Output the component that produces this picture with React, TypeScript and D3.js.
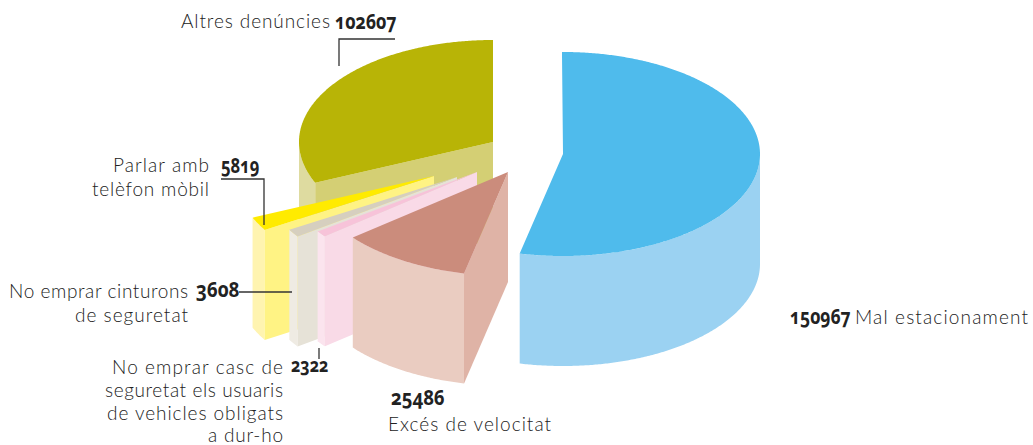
import React from "react";
import * as d3 from "d3";

// Data
const categories = ["Mal estacionament", "Excés de velocitat", "No emprar casc", "No emprar cinturons", "Parlar amb telèfon mòbil", "Altres denúncies"];
const values = [150967, 25486, 2322, 3608, 5819, 102607];

// Appearance
const topColors = ["#4FBBEC", "#CB8C7C", "#F7C3D9", "#D6CFBF", "#FFEB00", "#B8B406"];
const wallColors = ["#9BD2F2", "#EACCC1", "#FBE4EE", "#EFEBE3", "#FFF4B0", "#DEDBA0"];
const cutColors = ["#9BD2F2", "#DFB3A6", "#F9DAE7", "#E6E2D7", "#FFF384", "#D4CF74"];
const apexX = [563, 508, 477, 457, 434, 493];
const apexY = [154, 172, 172, 177, 176, 142];
const radiusX = [197, 200, 196, 196, 198, 194];
const radiusY = [102, 104, 102, 102, 104, 102];
const drawOrder = [5, 4, 3, 2, 1, 0];
// perspective-warped angle (degrees) of each slice boundary, as drawn
const warpedBoundaries = [-0.3, 192.7, 230.9, 234.4, 238.8, 246.4, 360];
const DEPTH = 110;

const LABEL_FONT = "Lato, 'Open Sans', sans-serif";
const NUM_FONT = "'Open Sans', sans-serif";
const INK = "#333333";
const DIGIT_EM = 0.571;

const labelLines = [
  { x: 855, y: 324, w: 173, anchor: "start", text: "Mal estacionament" },
  { x: 388, y: 431, w: 163, anchor: "start", text: "Excés de velocitat" },
  { x: 283, y: 374, w: 171, anchor: "end", text: "No emprar casc de" },
  { x: 283, y: 397, w: 178, anchor: "end", text: "seguretat els usuaris" },
  { x: 283, y: 420, w: 176, anchor: "end", text: "de vehicles obligats" },
  { x: 283, y: 442, w: 75, anchor: "end", text: "a dur-ho" },
  { x: 188, y: 298, w: 179, anchor: "end", text: "No emprar cinturons" },
  { x: 188, y: 322, w: 113, anchor: "end", text: "de seguretat" },
  { x: 209, y: 172, w: 96, anchor: "end", text: "Parlar amb" },
  { x: 209, y: 196, w: 117, anchor: "end", text: "telèfon mòbil" },
  { x: 330, y: 28, w: 149, anchor: "end", text: "Altres denúncies" },
];
const numberX = [790, 391, 291, 196, 221, 335];
const numberY = [324, 405, 372, 297, 173, 29];
const numberW = [60, 53, 37, 43, 38, 61];
const numberSize = [22, 22, 19, 22, 21, 21];
const leaders = [
  [[339, 66], [339, 39], [395, 39]],
  [[221, 179], [264, 179], [264, 225]],
  [[239, 292], [292, 292]],
  [[319, 348], [319, 359]],
];

export default function App() {
  const total = d3.sum(values);
  const arcs = d3.pie<number>().sort(null).startAngle(0).endAngle(2 * Math.PI)(values);
  const cum: number[] = [0];
  values.forEach((v) => cum.push(cum[cum.length - 1] + v));
  const warp = d3.scaleLinear().domain(cum).range(warpedBoundaries);
  const angleToValue = d3.scaleLinear().domain([0, 2 * Math.PI]).range([0, total]);
  const line = d3.line();
  const leaderLine = d3.line();

  const slices = arcs.map((a, i) => {
    const t0 = warp(angleToValue(a.startAngle));
    const t1 = warp(angleToValue(a.endAngle));
    const pt = (deg: number, dy = 0): [number, number] => {
      const r = (deg * Math.PI) / 180;
      return [apexX[i] + radiusX[i] * Math.sin(r), apexY[i] - radiusY[i] * Math.cos(r) + dy];
    };
    const range = (from: number, to: number) => d3.range(from, to, 0.5).concat([to]);
    const apex: [number, number] = [apexX[i], apexY[i]];
    const top = line([apex, ...range(t0, t1).map((d) => pt(d))])! + "Z";
    const wa = Math.max(t0, 90);
    const wb = Math.min(t1, 270);
    const wallPts = range(wa, wb);
    const wall =
      line([...wallPts.map((d) => pt(d)), ...wallPts.slice().reverse().map((d) => pt(d, DEPTH))])! + "Z";
    const cut =
      t0 > 90 && t0 < 270
        ? line([apex, pt(t0), pt(t0, DEPTH), [apex[0], apex[1] + DEPTH]])! + "Z"
        : null;
    return { i, top, wall, cut };
  });

  return (
    <svg width={1033} height={445} style={{ position: "absolute", left: 0, top: 0 }}>
      {drawOrder.map((i) => {
        const s = slices[i];
        return (
          <g key={categories[i]}>
            <path d={s.wall} fill={wallColors[i]} />
            {s.cut && <path d={s.cut} fill={cutColors[i]} />}
            <path d={s.top} fill={topColors[i]} />
          </g>
        );
      })}
      {leaders.map((l, i) => (
        <path key={i} d={leaderLine(l as [number, number][])!} fill="none" stroke={INK} strokeWidth={1.3} />
      ))}
      {labelLines.map((l) => (
        <text key={l.text} x={l.x} y={l.y} textAnchor={l.anchor as any} textLength={l.w} fontFamily={LABEL_FONT} fontWeight={300} fontSize={19} fill="#222">
          {l.text}
        </text>
      ))}
      {values.map((v, i) => {
        const natural = String(v).length * DIGIT_EM * numberSize[i];
        return (
          <text key={v} transform={`translate(${numberX[i]},${numberY[i]}) scale(${numberW[i] / natural},1)`} fontFamily={NUM_FONT} fontWeight={700} fontSize={numberSize[i]} fill="#222" style={{ fontFeatureSettings: '"onum"' }}>
            {v}
          </text>
        );
      })}
    </svg>
  );
}
